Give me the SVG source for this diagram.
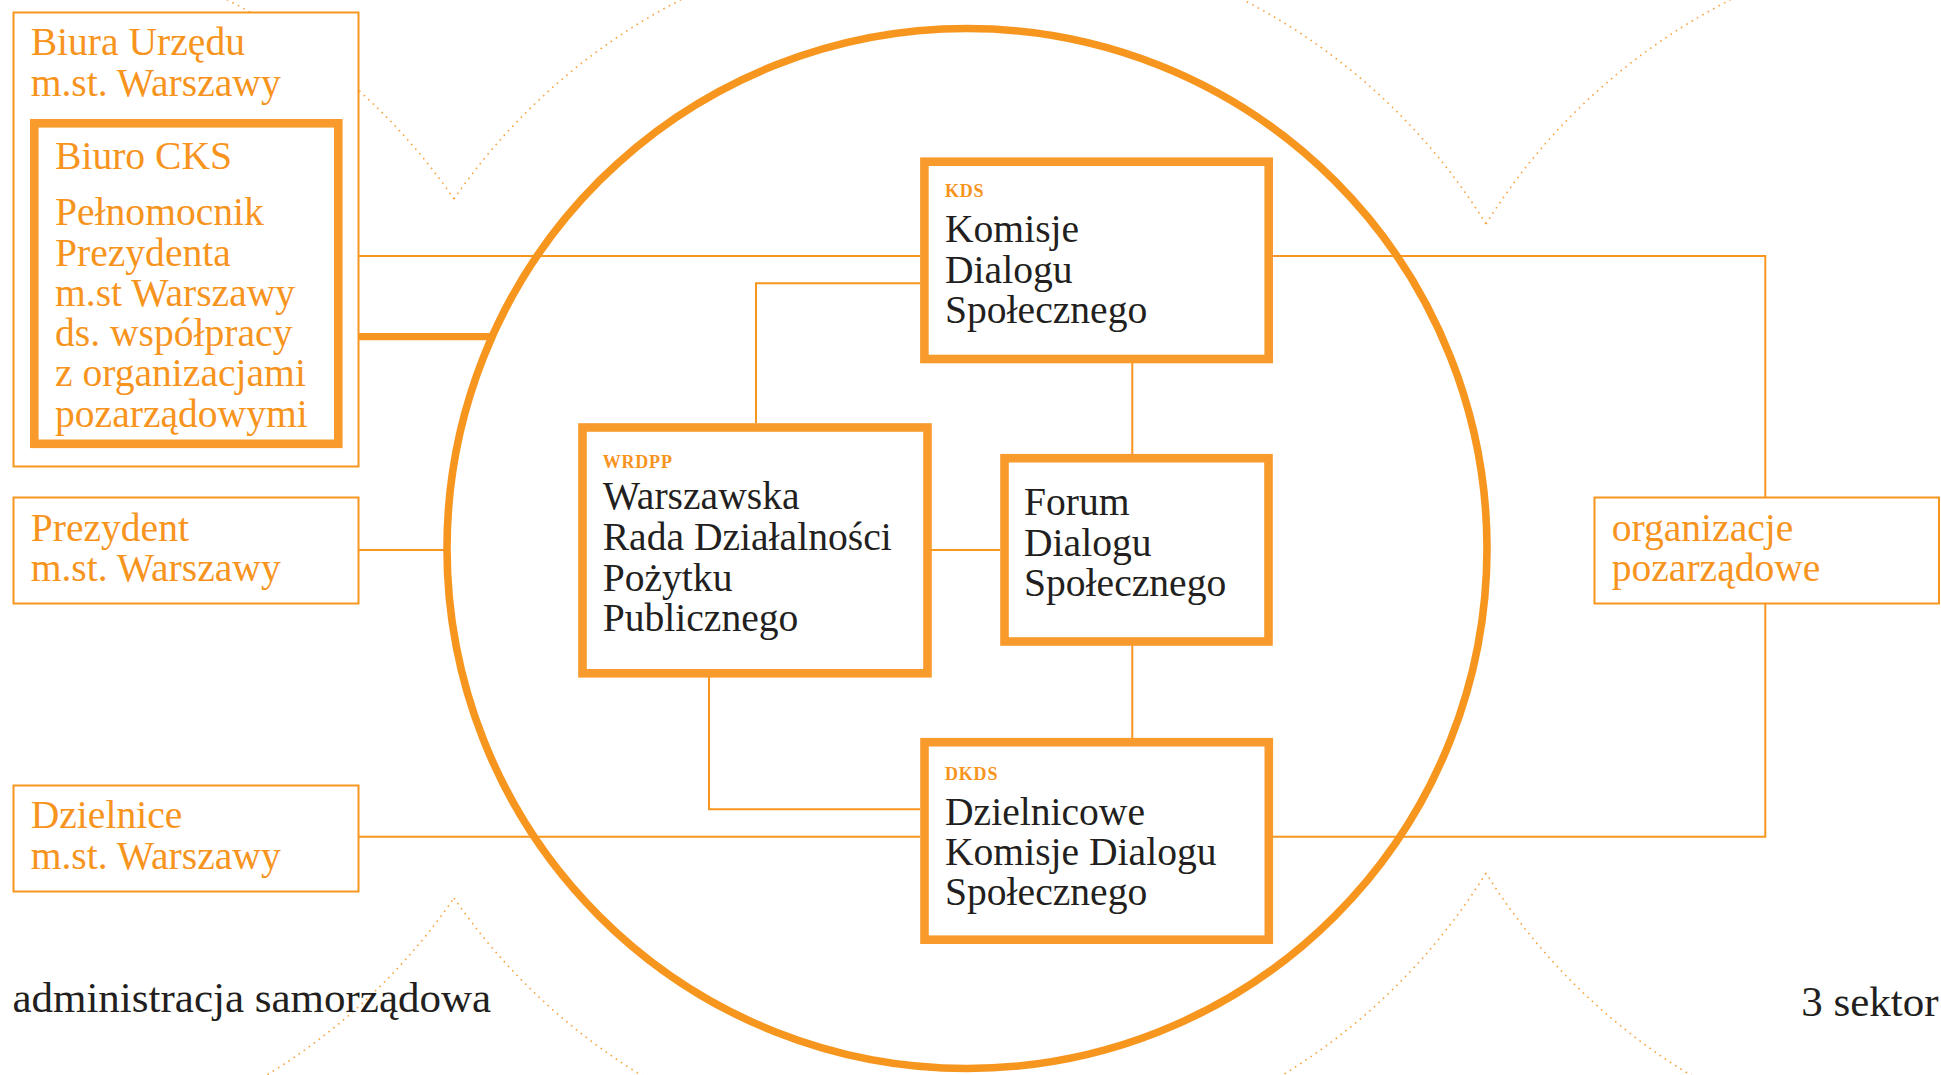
<svg xmlns="http://www.w3.org/2000/svg" width="1941" height="1075" viewBox="0 0 1941 1075">
<style>
.dot{fill:none;stroke:#F7941D;stroke-width:1.6;stroke-dasharray:1.6 4.6;opacity:0.85}
.thin{fill:none;stroke:#F7961F;stroke-width:2}
.thinbox{fill:#fff;stroke:#F7961F;stroke-width:2}
.thick{fill:#fff;stroke:#F89B2C;stroke-width:8.6}
.t{font-family:"Liberation Serif","DejaVu Serif",serif;font-size:39.6px}
.o{fill:#F7941D}
.d{fill:#231F20}
.lab{font-family:"Liberation Serif","DejaVu Serif",serif;font-size:18px;font-weight:bold;fill:#F7941D;letter-spacing:0.8px}
.foot{font-family:"Liberation Serif","DejaVu Serif",serif;font-size:43px;fill:#231F20}
</style>
<rect x="0" y="0" width="1941" height="1075" fill="#fff"/>
<g id="background-circles">
<path class="dot" d="M 454 199 A 616.4 616.4 0 1 0 454 898"/>
<path class="dot" d="M 454 199 A 616.4 616.4 0 0 1 1486 224"/>
<path class="dot" d="M 454 898 A 616.4 616.4 0 0 0 1486 873"/>
<path class="dot" d="M 1486 224 A 615.2 615.2 0 1 1 1486 873"/>
</g>
<g id="connectors">
<line class="thin" x1="359" y1="256" x2="920" y2="256"/>
<path class="thin" d="M 920 283.3 H 756 V 423"/>
<line class="thin" x1="1132.3" y1="363" x2="1132.3" y2="454"/>
<line class="thin" x1="931" y1="550" x2="1000" y2="550"/>
<line class="thin" x1="1132.3" y1="645" x2="1132.3" y2="738"/>
<path class="thin" d="M 709 677 V 809.3 H 920"/>
<line class="thin" x1="359" y1="550" x2="447" y2="550"/>
<line class="thin" x1="359" y1="836.7" x2="920" y2="836.7"/>
<path class="thin" d="M 1273 256 H 1765.3 V 497"/>
<path class="thin" d="M 1765.3 603 V 836.7 H 1273"/>
<line x1="342" y1="336.7" x2="493" y2="336.7" stroke="#F7961F" stroke-width="7.2"/>
</g>
<g id="sector-circle">
<circle cx="967" cy="548.5" r="520" fill="none" stroke="#F7961F" stroke-width="7.6"/>
</g>
<g id="biura">
<rect class="thinbox" x="13.5" y="12.5" width="345" height="454"/>
<text class="t o"><tspan x="30.7" y="55">Biura Urzędu</tspan><tspan x="30.7" y="96">m.st. Warszawy</tspan></text>
</g>
<g id="biuro-cks">
<rect class="thick" x="34.3" y="123.3" width="304" height="320.5"/>
<text class="t o"><tspan x="55" y="169.3">Biuro CKS</tspan><tspan x="55" y="225">Pełnomocnik</tspan><tspan x="55" y="265.7">Prezydenta</tspan><tspan x="55" y="306">m.st Warszawy</tspan><tspan x="55" y="345.5">ds. współpracy</tspan><tspan x="55" y="386">z organizacjami</tspan><tspan x="55" y="426.7">pozarządowymi</tspan></text>
</g>
<g id="prezydent">
<rect class="thinbox" x="13.5" y="497.5" width="345" height="106"/>
<text class="t o"><tspan x="30.7" y="540.7">Prezydent</tspan><tspan x="30.7" y="580.7">m.st. Warszawy</tspan></text>
</g>
<g id="dzielnice">
<rect class="thinbox" x="13.5" y="785.5" width="345" height="106"/>
<text class="t o"><tspan x="30.7" y="828.3">Dzielnice</tspan><tspan x="30.7" y="869.3">m.st. Warszawy</tspan></text>
</g>
<g id="kds">
<rect class="thick" x="924.4" y="161.7" width="344.3" height="197.3"/>
<text class="lab" x="945" y="196.7">KDS</text>
<text class="t d"><tspan x="945" y="241.7">Komisje</tspan><tspan x="945" y="282.7">Dialogu</tspan><tspan x="945" y="323.3">Społecznego</tspan></text>
</g>
<g id="wrdpp">
<rect class="thick" x="582.5" y="427.5" width="345" height="245.8"/>
<text class="lab" x="602.7" y="468.3">WRDPP</text>
<text class="t d"><tspan x="602.7" y="509">Warszawska</tspan><tspan x="602.7" y="550">Rada Działalności</tspan><tspan x="602.7" y="591">Pożytku</tspan><tspan x="602.7" y="630.7">Publicznego</tspan></text>
</g>
<g id="forum">
<rect class="thick" x="1004.5" y="458.2" width="264" height="183.3" stroke-width="9.2"/>
<text class="t d"><tspan x="1024" y="515">Forum</tspan><tspan x="1024" y="555.6">Dialogu</tspan><tspan x="1024" y="596.2">Społecznego</tspan></text>
</g>
<g id="dkds">
<rect class="thick" x="924.5" y="742.2" width="344.3" height="197.5"/>
<text class="lab" x="945" y="780">DKDS</text>
<text class="t d"><tspan x="945" y="825">Dzielnicowe</tspan><tspan x="945" y="865">Komisje Dialogu</tspan><tspan x="945" y="905">Społecznego</tspan></text>
</g>
<g id="organizacje">
<rect class="thinbox" x="1594.5" y="497.5" width="344.5" height="106"/>
<text class="t o"><tspan x="1611.7" y="541">organizacje</tspan><tspan x="1611.7" y="581">pozarządowe</tspan></text>
</g>
<g id="labels">
<text class="foot" x="12.4" y="1012">administracja samorządowa</text>
<text class="foot" x="1938.5" y="1016" text-anchor="end">3 sektor</text>
</g>
</svg>
